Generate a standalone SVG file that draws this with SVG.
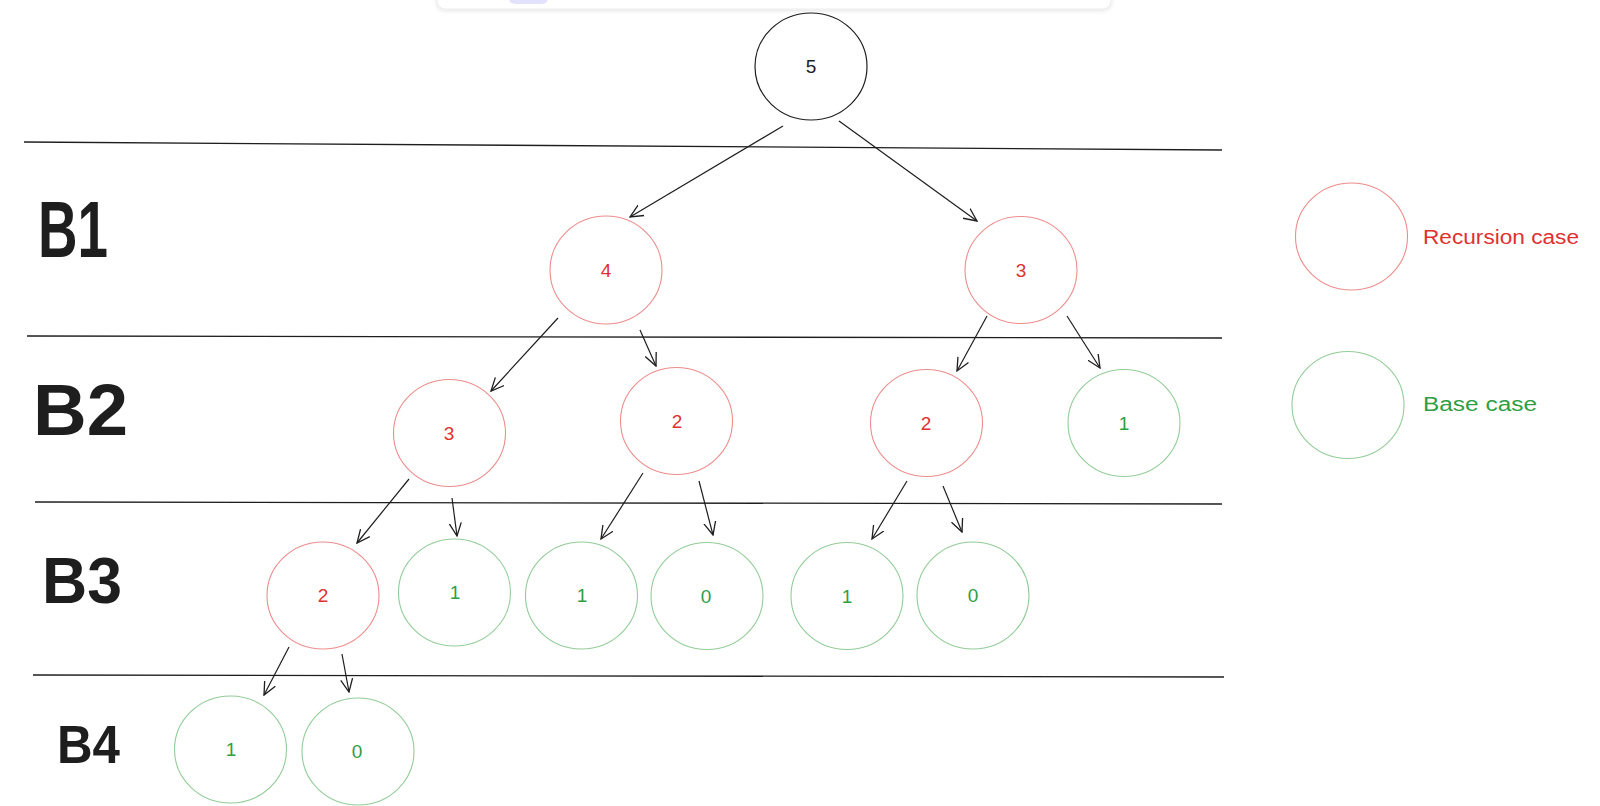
<svg xmlns="http://www.w3.org/2000/svg" width="1600" height="806" viewBox="0 0 1600 806">
<style>
.bg{fill:#ffffff}
.line{stroke:#1e1e1e;stroke-width:1.3;fill:none}
.conn{stroke:#1e1e1e;stroke-width:1.2;fill:none}
.black{fill:none;stroke:#1e1e1e;stroke-width:1.2}
.red{fill:none;stroke:#ec8d8d;stroke-width:1.1}
.green{fill:none;stroke:#93cc99;stroke-width:1.1}
.num{font-family:"Liberation Sans",Arial,sans-serif;font-size:19px;text-anchor:middle}
.tr{fill:#e03131}
.tg{fill:#2f9e44}
.tb{fill:#1e1e1e}
.lvl{font-family:"Liberation Sans",Arial,sans-serif;font-weight:bold;fill:#1e1e1e}
.leg{font-family:"Liberation Sans",Arial,sans-serif;font-size:20px}
</style>
<defs>
<marker id="ah" viewBox="0 0 14 14" refX="13" refY="7" markerWidth="14" markerHeight="14" markerUnits="userSpaceOnUse" orient="auto">
<path d="M0,1 L13,7 L0,13" fill="none" stroke="#1e1e1e" stroke-width="1.3"/>
</marker>
<filter id="sh" x="-10%" y="-100%" width="120%" height="300%">
<feDropShadow dx="0" dy="1" stdDeviation="2" flood-color="#000" flood-opacity="0.12"/>
</filter>
</defs>
<rect class="bg" x="0" y="0" width="1600" height="806"/>
<g id="toolbar">
<rect x="437" y="-30" width="674" height="39" rx="8" fill="#ffffff" stroke="#ececf0" stroke-width="1" filter="url(#sh)"/>
<rect x="509" y="-20" width="39" height="24" rx="6" fill="#e3e2fe"/>
</g>
<g id="levels">
<line class="line" x1="24" y1="142" x2="1222" y2="150"/>
<line class="line" x1="27" y1="336" x2="1222" y2="338"/>
<line class="line" x1="35" y1="502" x2="1222" y2="504"/>
<line class="line" x1="33" y1="675" x2="1224" y2="677"/>
<text class="lvl" x="38" y="257" font-size="80" textLength="70" lengthAdjust="spacingAndGlyphs">B1</text>
<text class="lvl" x="33" y="435" font-size="72" textLength="95" lengthAdjust="spacingAndGlyphs">B2</text>
<text class="lvl" x="42" y="603" font-size="64" textLength="80" lengthAdjust="spacingAndGlyphs">B3</text>
<text class="lvl" x="57" y="763" font-size="53" textLength="63" lengthAdjust="spacingAndGlyphs">B4</text>
</g>
<g id="connectors">
<line class="conn" x1="783" y1="126" x2="630" y2="217" marker-end="url(#ah)"/>
<line class="conn" x1="839" y1="121" x2="977" y2="221" marker-end="url(#ah)"/>
<line class="conn" x1="558" y1="318" x2="491" y2="391" marker-end="url(#ah)"/>
<line class="conn" x1="640" y1="330" x2="656" y2="366" marker-end="url(#ah)"/>
<line class="conn" x1="987" y1="316" x2="957" y2="371" marker-end="url(#ah)"/>
<line class="conn" x1="1067" y1="316" x2="1100" y2="368" marker-end="url(#ah)"/>
<line class="conn" x1="409" y1="479" x2="357" y2="543" marker-end="url(#ah)"/>
<line class="conn" x1="452" y1="498" x2="457" y2="536" marker-end="url(#ah)"/>
<line class="conn" x1="643" y1="473" x2="601" y2="539" marker-end="url(#ah)"/>
<line class="conn" x1="699" y1="481" x2="713" y2="535" marker-end="url(#ah)"/>
<line class="conn" x1="907" y1="481" x2="872" y2="539" marker-end="url(#ah)"/>
<line class="conn" x1="943" y1="486" x2="962" y2="532" marker-end="url(#ah)"/>
<line class="conn" x1="289" y1="647" x2="264" y2="695" marker-end="url(#ah)"/>
<line class="conn" x1="342" y1="654" x2="349" y2="692" marker-end="url(#ah)"/>
</g>
<g id="n5"><ellipse class="black" cx="811" cy="66.5" rx="56" ry="53.5"/><text class="num tb" x="811" y="73">5</text></g>
<g id="n4"><ellipse class="red" cx="606" cy="270" rx="56" ry="54"/><text class="num tr" x="606" y="277">4</text></g>
<g id="n3a"><ellipse class="red" cx="1021" cy="270" rx="56" ry="53.5"/><text class="num tr" x="1021" y="277">3</text></g>
<g id="n3b"><ellipse class="red" cx="449.5" cy="433" rx="56" ry="53.5"/><text class="num tr" x="449" y="440">3</text></g>
<g id="n2a"><ellipse class="red" cx="676.5" cy="421" rx="56" ry="53.5"/><text class="num tr" x="677" y="428">2</text></g>
<g id="n2b"><ellipse class="red" cx="926.5" cy="423" rx="56" ry="53.5"/><text class="num tr" x="926" y="430">2</text></g>
<g id="n1a"><ellipse class="green" cx="1124" cy="423" rx="56" ry="53.5"/><text class="num tg" x="1124" y="430">1</text></g>
<g id="n2c"><ellipse class="red" cx="323" cy="595.5" rx="56" ry="53.5"/><text class="num tr" x="323" y="602">2</text></g>
<g id="n1b"><ellipse class="green" cx="454.5" cy="592.5" rx="56" ry="53.5"/><text class="num tg" x="455" y="599">1</text></g>
<g id="n1c"><ellipse class="green" cx="581.5" cy="595.5" rx="56" ry="53.5"/><text class="num tg" x="582" y="602">1</text></g>
<g id="n0a"><ellipse class="green" cx="707" cy="596" rx="56" ry="53.5"/><text class="num tg" x="706" y="603">0</text></g>
<g id="n1d"><ellipse class="green" cx="847" cy="596" rx="56" ry="53.5"/><text class="num tg" x="847" y="603">1</text></g>
<g id="n0b"><ellipse class="green" cx="973" cy="595.5" rx="56" ry="53.5"/><text class="num tg" x="973" y="602">0</text></g>
<g id="n1e"><ellipse class="green" cx="230.5" cy="749.5" rx="56" ry="53.5"/><text class="num tg" x="231" y="756">1</text></g>
<g id="n0c"><ellipse class="green" cx="358" cy="751.5" rx="56" ry="53.5"/><text class="num tg" x="357" y="758">0</text></g>
<g id="legend-recursion"><ellipse class="red" cx="1351.5" cy="236.5" rx="56" ry="53.5"/><text class="leg tr" x="1423" y="244" textLength="156" lengthAdjust="spacingAndGlyphs">Recursion case</text></g>
<g id="legend-base"><ellipse class="green" cx="1348" cy="405" rx="56" ry="53.5"/><text class="leg tg" x="1423" y="411" textLength="114" lengthAdjust="spacingAndGlyphs">Base case</text></g>
</svg>
